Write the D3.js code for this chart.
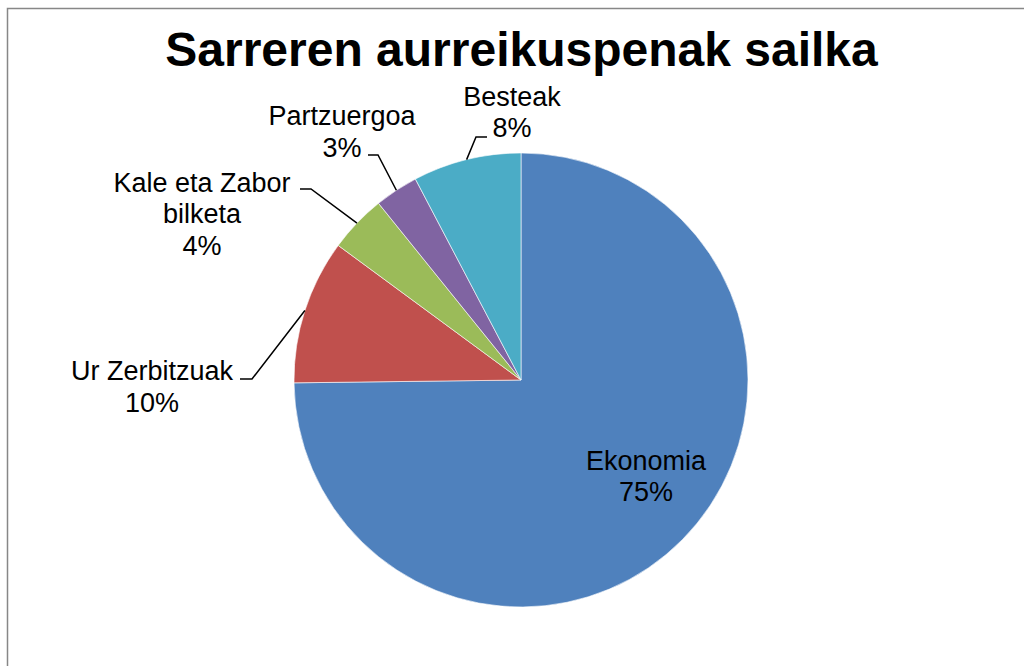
<!DOCTYPE html>
<html>
<head>
<meta charset="utf-8">
<script src="https://cdn.jsdelivr.net/npm/d3@7"></script>
<style>
  html, body { margin: 0; padding: 0; background: #fff; }
  #chart { width: 1024px; height: 666px; }
  svg { display: block; font-family: "Liberation Sans", Arial, sans-serif; }
</style>
</head>
<body>
<div id="chart"></div>
<script>
// data (shares of income forecast)
const categories = ["Ekonomia", "Ur Zerbitzuak", "Kale eta Zabor bilketa", "Partzuergoa", "Besteak"];
const values = [74.8, 10.3, 4.1, 3.1, 7.7];
const pctLabels = ["75%", "10%", "4%", "3%", "8%"];
const colors = ["#4F81BD", "#C0504D", "#9BBB59", "#8064A2", "#4BACC6"];

function draw() {
  const w = 1024, h = 666;
  const svg = d3.select("#chart").append("svg")
    .attr("width", w)
    .attr("height", h);

  // chart frame (runs off the right and bottom edges)
  svg.append("rect")
    .attr("x", 7.5).attr("y", 8.5)
    .attr("width", 1040).attr("height", 700)
    .attr("fill", "#fff")
    .attr("stroke", "#878787")
    .attr("stroke-width", 1.5);

  svg.append("text")
    .attr("x", 521.5).attr("y", 66)
    .attr("text-anchor", "middle")
    .style("font-size", "48px")
    .style("font-weight", "bold")
    .text("Sarreren aurreikuspenak sailka");

  const cx = 521, cy = 380, r = 227;
  const g = svg.append("g").attr("transform", `translate(${cx},${cy})`);

  const data = categories.map((c, i) => ({ name: c, value: values[i], pct: pctLabels[i], color: colors[i] }));

  const pie = d3.pie().value(d => d.value).sort(null);
  const arc = d3.arc().innerRadius(0).outerRadius(r);
  const arcs = pie(data);

  g.selectAll("path")
    .data(arcs)
    .join("path")
    .attr("d", arc)
    .attr("fill", d => d.data.color)
    .attr("stroke", "#fff")
    .attr("stroke-width", 0.6);

  // label layout: text centre/baseline, elbow of leader line, end of leader line
  const fs = 27, lh = 31.5;
  const layout = {
    "Ekonomia":               { lines: ["Ekonomia"], x: 646, y: 469.5 },
    "Ur Zerbitzuak":          { lines: ["Ur Zerbitzuak"], x: 152, y: 380, elbow: [252, 379], end: 240 },
    "Kale eta Zabor bilketa": { lines: ["Kale eta Zabor", "bilketa"], x: 202, y: 191.5, elbow: [311, 189], end: 300 },
    "Partzuergoa":            { lines: ["Partzuergoa"], x: 342, y: 125, elbow: [378, 155], end: 368 },
    "Besteak":                { lines: ["Besteak"], x: 512, y: 105.5, elbow: [476, 137], end: 487 }
  };

  arcs.forEach(a => {
    const L = layout[a.data.name];
    const t = svg.append("text")
      .attr("text-anchor", "middle")
      .style("font-size", fs + "px")
      .attr("fill", "#000");
    const rows = L.lines.concat([a.data.pct]);
    rows.forEach((s, i) => {
      t.append("tspan").attr("x", L.x).attr("y", L.y + i * lh).text(s);
    });

    if (L.elbow) {
      const mid = (a.startAngle + a.endAngle) / 2;
      const sx = cx + r * Math.sin(mid), sy = cy - r * Math.cos(mid);
      svg.append("polyline")
        .attr("points", `${sx},${sy} ${L.elbow[0]},${L.elbow[1]} ${L.end},${L.elbow[1]}`)
        .attr("fill", "none")
        .attr("stroke", "#000")
        .attr("stroke-width", 1.5);
    }
  });
}

draw();
</script>
</body>
</html>
